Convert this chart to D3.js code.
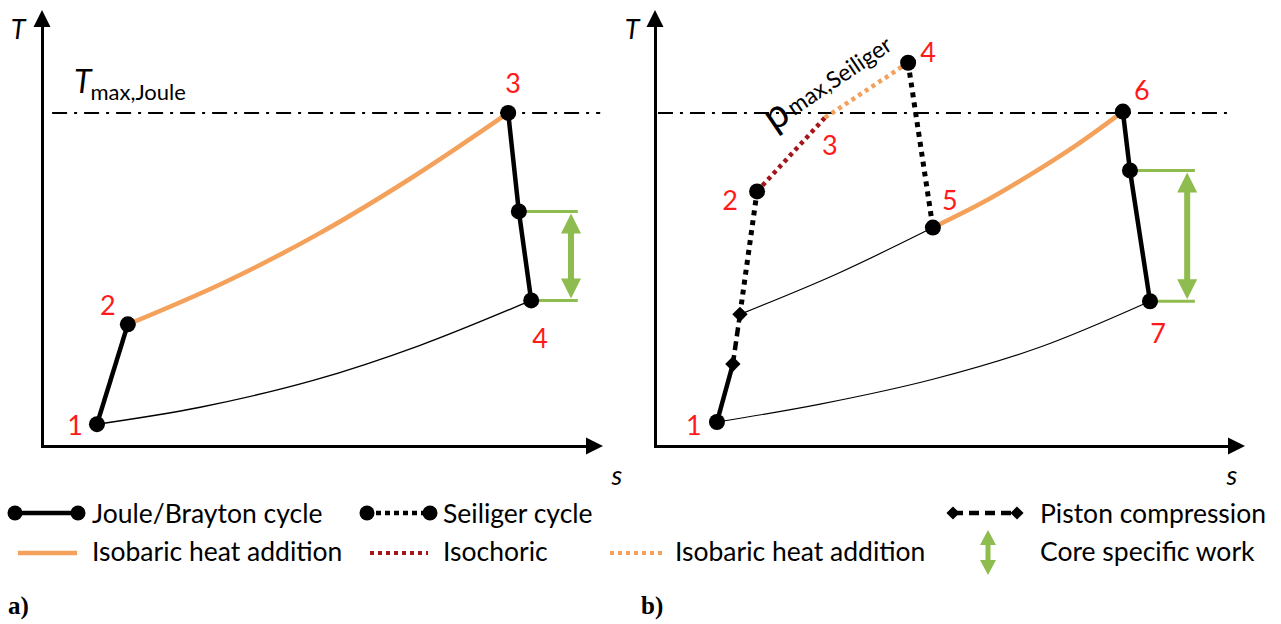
<!DOCTYPE html>
<html>
<head>
<meta charset="utf-8">
<script src="https://cdn.jsdelivr.net/npm/d3@7"></script>
<style>
  html, body { margin: 0; padding: 0; background: #fff; }
  svg { display: block; }
</style>
</head>
<body>
<svg id="chart" width="1281" height="624" font-family="Lato, 'Open Sans', sans-serif"></svg>
<script>
// ---- T–s diagram data (entropy s, temperature T, arbitrary units 0..100) ----

// a) Joule/Brayton cycle: state points
const jouleStates = ["1", "2", "3", "", "4"];
const jouleS      = [9.8, 15.3, 83.1, 85.0, 87.2];
const jouleT      = [5.0, 27.9, 76.4, 53.8, 33.4];
// isobaric heat addition 2 -> 3
const jouleHeatS  = [15.3, 32.3, 49.2, 66.1, 83.1];
const jouleHeatT  = [27.9, 37.4, 48.6, 61.7, 76.4];
// isobaric heat rejection 4 -> 1 (thin)
const jouleRejS   = [9.8, 28.2, 48.5, 67.4, 87.2];
const jouleRejT   = [5.0, 8.9, 15.1, 23.1, 33.4];

// b) Seiliger cycle with piston compression and turbine expansion
const seilStates  = ["1", "", "", "2", "3", "4", "5", "6", "", "7"];
const seilS       = [10.5, 13.2, 14.4, 17.3, 28.8, 42.9, 47.1, 79.3, 80.5, 83.9];
const seilT       = [5.5, 18.8, 30.2, 58.4, 75.3, 87.9, 50.1, 76.7, 63.2, 33.2];
// thin isobar from end of piston compression to state 5
const seilIsoS    = [14.4, 30.7, 47.1];
const seilIsoT    = [30.2, 39.4, 50.1];
// isobaric heat addition 5 -> 6
const seilHeatS   = [47.1, 55.2, 63.2, 71.3, 79.3];
const seilHeatT   = [50.1, 55.6, 61.9, 68.9, 76.7];
// heat rejection 7 -> 1 (thin)
const seilRejS    = [10.5, 28.0, 47.1, 65.3, 83.9];
const seilRejT    = [5.5, 9.6, 15.3, 22.7, 33.2];

// maximum temperature level and core specific work brackets
const tMax        = 76.4;
const tMaxSpanA   = [1.8, 99.5];
const tMaxSpanB   = [0.5, 97.0];
const workA       = { top: 53.8, bottom: 33.4, from: [85.0, 87.2], to: 95.5, arrow: 94.3 };
const workB       = { top: 63.2, bottom: 33.2, from: [80.5, 83.9], to: 91.5, arrow: 90.2 };

// legend entries
const legendRow1  = ["Joule/Brayton cycle", "Seiliger cycle", "Piston compression"];
const legendRow2  = ["Isobaric heat addition", "Isochoric", "Isobaric heat addition", "Core specific work"];
const panelTags   = ["a)", "b)"];

// ---- styles ----
const BLACK = "#000";
const ORANGE = "#f3a15b";
const DARKRED = "#a3161b";
const GREEN = "#8fbc4f";
const RED = "#ff1a1a";

const svg = d3.select("#chart");

function zip(s, t) { return s.map((v, i) => [v, t[i]]); }

function makePanel(x0, x1) {
  const x = d3.scaleLinear().domain([0, 100]).range([x0, x1]);
  const y = d3.scaleLinear().domain([0, 100]).range([446, 10]);
  return { x, y };
}

const A = makePanel(42, 603);
const B = makePanel(655, 1245);

function drawAxes(p, tLabelX, sLabelX) {
  const g = svg.append("g");
  // horizontal s axis (no ticks), shortened so the arrowhead caps it
  const xAx = d3.axisBottom(p.x.copy().range([p.x(0) - 1.5, p.x(100) - 14])).tickValues([]).tickSizeOuter(0);
  g.append("g").attr("transform", `translate(0,${p.y(0)})`).call(xAx)
    .select(".domain").attr("stroke", BLACK).attr("stroke-width", 3);
  const yAx = d3.axisLeft(p.y.copy().range([p.y(0) + 1.5, p.y(100) + 14])).tickValues([]).tickSizeOuter(0);
  g.append("g").attr("transform", `translate(${p.x(0)},0)`).call(yAx)
    .select(".domain").attr("stroke", BLACK).attr("stroke-width", 3);
  // arrowheads
  const xe = p.x(100), ye = p.y(0);
  g.append("path").attr("d", `M${xe},${ye} L${xe - 17},${ye - 8.5} L${xe - 17},${ye + 8.5} Z`).attr("fill", BLACK);
  const xa = p.x(0), ya = p.y(100);
  g.append("path").attr("d", `M${xa},${ya} L${xa - 8.5},${ya + 17} L${xa + 8.5},${ya + 17} Z`).attr("fill", BLACK);
  // axis titles
  g.append("text").attr("x", tLabelX).attr("y", 39).attr("font-size", 27).attr("font-style", "italic")
    .attr("text-anchor", "middle").text("T");
  g.append("text").attr("x", sLabelX).attr("y", 485).attr("font-size", 27).attr("font-style", "italic")
    .attr("text-anchor", "middle").text("s");
}

function linePath(p, pts, curve) {
  return d3.line().x(d => p.x(d[0])).y(d => p.y(d[1])).curve(curve || d3.curveLinear)(pts);
}

function drawDashDot(p, span) {
  svg.append("path").attr("d", linePath(p, [[span[0], tMax], [span[1], tMax]]))
    .attr("stroke", BLACK).attr("stroke-width", 2).attr("fill", "none")
    .attr("stroke-dasharray", "15,7,3,7");
}

function drawWork(p, w) {
  const g = svg.append("g");
  g.append("line").attr("x1", p.x(w.from[0])).attr("x2", p.x(w.to)).attr("y1", p.y(w.top)).attr("y2", p.y(w.top))
    .attr("stroke", GREEN).attr("stroke-width", 3);
  g.append("line").attr("x1", p.x(w.from[1])).attr("x2", p.x(w.to)).attr("y1", p.y(w.bottom)).attr("y2", p.y(w.bottom))
    .attr("stroke", GREEN).attr("stroke-width", 3);
  drawDoubleArrow(g, p.x(w.arrow), p.y(w.top) + 2, p.y(w.bottom) - 2, 10, 20, 6);
}

function drawDoubleArrow(g, x, yTop, yBot, half, head, shaft) {
  g.append("path")
    .attr("d", `M${x},${yTop} L${x + half},${yTop + head} L${x + shaft / 2},${yTop + head}
      L${x + shaft / 2},${yBot - head} L${x + half},${yBot - head} L${x},${yBot}
      L${x - half},${yBot - head} L${x - shaft / 2},${yBot - head} L${x - shaft / 2},${yTop + head}
      L${x - half},${yTop + head} Z`)
    .attr("fill", GREEN);
}

function dot(p, s, t, r) {
  svg.append("circle").attr("cx", p.x(s)).attr("cy", p.y(t)).attr("r", r || 8).attr("fill", BLACK);
}

function diamond(cx, cy, size) {
  svg.append("path").attr("d", d3.symbol(d3.symbolDiamond2, size)())
    .attr("transform", `translate(${cx},${cy})`).attr("fill", BLACK);
}

function stateLabel(x, y, txt) {
  svg.append("text").attr("x", x).attr("y", y).attr("font-size", 27).attr("fill", RED)
    .attr("text-anchor", "middle").attr("dominant-baseline", "central").text(txt);
}

// ================= panel a) =================
drawAxes(A, 18, 617);
drawDashDot(A, tMaxSpanA);
{
  const t = svg.append("text").attr("x", 74).attr("y", 93);
  t.append("tspan").attr("font-size", 32).attr("font-style", "italic").text("T");
  t.append("tspan").attr("font-size", 22).attr("dy", 7).attr("dx", -1).text("max,Joule");
}
const ptsA = zip(jouleS, jouleT);
// heat rejection (thin)
svg.append("path").attr("d", linePath(A, zip(jouleRejS, jouleRejT), d3.curveCatmullRom))
  .attr("stroke", BLACK).attr("stroke-width", 1.4).attr("fill", "none");
// heat addition (orange)
svg.append("path").attr("d", linePath(A, zip(jouleHeatS, jouleHeatT), d3.curveCatmullRom))
  .attr("stroke", ORANGE).attr("stroke-width", 4.5).attr("fill", "none");
// compression 1-2, expansion 3-4
svg.append("path").attr("d", linePath(A, ptsA.slice(0, 2))).attr("stroke", BLACK).attr("stroke-width", 4.5).attr("fill", "none");
svg.append("path").attr("d", linePath(A, ptsA.slice(2))).attr("stroke", BLACK).attr("stroke-width", 4.5).attr("fill", "none");
drawWork(A, workA);
ptsA.forEach(d => dot(A, d[0], d[1], 8));
const labelOffA = [[-22, 0], [-20, -20], [5, -30], null, [9, 37]];
jouleStates.forEach((s, i) => {
  if (!s) return;
  stateLabel(A.x(jouleS[i]) + labelOffA[i][0], A.y(jouleT[i]) + labelOffA[i][1], s);
});

// ================= panel b) =================
drawAxes(B, 632, 1232);
drawDashDot(B, tMaxSpanB);
const ptsB = zip(seilS, seilT);
// thin isobars
svg.append("path").attr("d", linePath(B, zip(seilRejS, seilRejT), d3.curveCatmullRom))
  .attr("stroke", BLACK).attr("stroke-width", 1.2).attr("fill", "none");
svg.append("path").attr("d", linePath(B, zip(seilIsoS, seilIsoT), d3.curveCatmullRom))
  .attr("stroke", BLACK).attr("stroke-width", 1.2).attr("fill", "none");
// isobaric heat addition 5-6
svg.append("path").attr("d", linePath(B, zip(seilHeatS, seilHeatT), d3.curveCatmullRom))
  .attr("stroke", ORANGE).attr("stroke-width", 4.5).attr("fill", "none");
// turbomachinery compression 1 -> piston start
svg.append("path").attr("d", linePath(B, ptsB.slice(0, 2))).attr("stroke", BLACK).attr("stroke-width", 4.5).attr("fill", "none");
// piston compression (dashed)
svg.append("path").attr("d", linePath(B, ptsB.slice(1, 3))).attr("stroke", BLACK).attr("stroke-width", 4.5)
  .attr("fill", "none").attr("stroke-dasharray", "9,5");
// Seiliger compression to 2 (dotted)
svg.append("path").attr("d", linePath(B, ptsB.slice(2, 4))).attr("stroke", BLACK).attr("stroke-width", 5)
  .attr("fill", "none").attr("stroke-dasharray", "5,5");
// isochoric 2-3
svg.append("path").attr("d", linePath(B, ptsB.slice(3, 5))).attr("stroke", DARKRED).attr("stroke-width", 4.5)
  .attr("fill", "none").attr("stroke-dasharray", "4,4");
// isobaric 3-4
svg.append("path").attr("d", linePath(B, ptsB.slice(4, 6))).attr("stroke", ORANGE).attr("stroke-width", 4.5)
  .attr("fill", "none").attr("stroke-dasharray", "4,4");
// expansion 4-5 (dotted)
svg.append("path").attr("d", linePath(B, ptsB.slice(5, 7))).attr("stroke", BLACK).attr("stroke-width", 5)
  .attr("fill", "none").attr("stroke-dasharray", "5,5");
// turbine expansion 6-7
svg.append("path").attr("d", linePath(B, ptsB.slice(7, 10))).attr("stroke", BLACK).attr("stroke-width", 4.5).attr("fill", "none");
drawWork(B, workB);
// markers
[0, 3, 5, 6, 7, 8, 9].forEach(i => dot(B, seilS[i], seilT[i], 8));
[1, 2].forEach(i => diamond(B.x(seilS[i]), B.y(seilT[i]), 150));
const labelOffB = [[-23, 2], null, null, [-27, 8], [5, 27], [20, -11], [17, -28], [19, -22], null, [8, 31]];
seilStates.forEach((s, i) => {
  if (!s) return;
  stateLabel(B.x(seilS[i]) + labelOffB[i][0], B.y(seilT[i]) + labelOffB[i][1], s);
});
// p_max,Seiliger label along the 3-4 isobar
{
  const g = svg.append("g").attr("transform", `translate(774,132) rotate(-34)`);
  const t = g.append("text").attr("x", 0).attr("y", 0);
  t.append("tspan").attr("font-size", 40).text("p");
  t.append("tspan").attr("font-size", 23).attr("dx", 3).attr("dy", -2).text("max,Seiliger");
}

// ================= legend =================
const LG = svg.append("g").attr("font-size", 26.5);
const r1 = 513, r2 = 551;
// Joule/Brayton
LG.append("line").attr("x1", 15).attr("x2", 78).attr("y1", r1).attr("y2", r1).attr("stroke", BLACK).attr("stroke-width", 4.5);
LG.append("circle").attr("cx", 15).attr("cy", r1).attr("r", 7.5);
LG.append("circle").attr("cx", 78).attr("cy", r1).attr("r", 7.5);
LG.append("text").attr("x", 92).attr("y", r1).attr("dominant-baseline", "central").text(legendRow1[0]);
// Seiliger
LG.append("line").attr("x1", 367).attr("x2", 430).attr("y1", r1).attr("y2", r1).attr("stroke", BLACK).attr("stroke-width", 4.5).attr("stroke-dasharray", "5,4");
LG.append("circle").attr("cx", 367).attr("cy", r1).attr("r", 7.5);
LG.append("circle").attr("cx", 430).attr("cy", r1).attr("r", 7.5);
LG.append("text").attr("x", 443).attr("y", r1).attr("dominant-baseline", "central").text(legendRow1[1]);
// Piston compression
LG.append("line").attr("x1", 953).attr("x2", 1017).attr("y1", r1).attr("y2", r1).attr("stroke", BLACK).attr("stroke-width", 4.5).attr("stroke-dasharray", "10,6");
[953, 1017].forEach(cx => LG.append("path").attr("d", d3.symbol(d3.symbolDiamond2, 110)()).attr("transform", `translate(${cx},${r1})`));
LG.append("text").attr("x", 1040).attr("y", r1).attr("dominant-baseline", "central").text(legendRow1[2]);
// Isobaric (solid)
LG.append("line").attr("x1", 18).attr("x2", 77).attr("y1", r2 + 2).attr("y2", r2 + 2).attr("stroke", ORANGE).attr("stroke-width", 4.5);
LG.append("text").attr("x", 92).attr("y", r2).attr("dominant-baseline", "central").text(legendRow2[0]);
// Isochoric
LG.append("line").attr("x1", 370).attr("x2", 428).attr("y1", r2 + 2).attr("y2", r2 + 2).attr("stroke", DARKRED).attr("stroke-width", 4).attr("stroke-dasharray", "4,4");
LG.append("text").attr("x", 443).attr("y", r2).attr("dominant-baseline", "central").text(legendRow2[1]);
// Isobaric (dotted)
LG.append("line").attr("x1", 610).attr("x2", 664).attr("y1", r2 + 2).attr("y2", r2 + 2).attr("stroke", ORANGE).attr("stroke-width", 4).attr("stroke-dasharray", "4,4");
LG.append("text").attr("x", 675).attr("y", r2).attr("dominant-baseline", "central").text(legendRow2[2]);
// Core specific work
drawDoubleArrow(LG, 988, 530, 575, 8, 15, 5);
LG.append("text").attr("x", 1040).attr("y", r2).attr("dominant-baseline", "central").text(legendRow2[3]);

// panel tags
svg.selectAll("text.tag").data(panelTags).join("text").attr("class", "tag")
  .attr("x", (d, i) => i ? 641 : 8).attr("y", 614)
  .attr("font-family", "'Liberation Serif', 'DejaVu Serif', serif")
  .attr("font-weight", "bold").attr("font-size", 25).text(d => d);
</script>
</body>
</html>
